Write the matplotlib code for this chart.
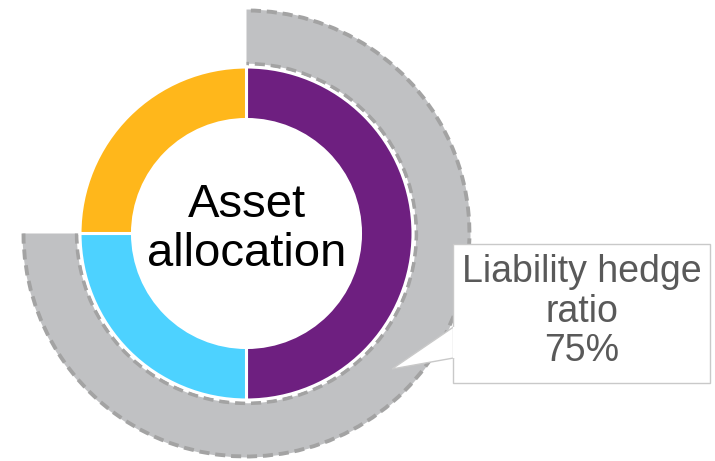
import numpy as np
import matplotlib
matplotlib.use('Agg')
import matplotlib.pyplot as plt
from matplotlib.patches import Arc, Rectangle, Polygon

# asset allocation (inner ring), clockwise from 12 o'clock
alloc_names = ['Matching assets', 'Growth assets', 'Other assets']
alloc_values = [50, 25, 25]
alloc_colours = ['#6e1f80', '#4dd2ff', '#ffb71b']

# liability hedge ratio (outer ring)
hedge_ratio = 75
hedge_label = 'Liability hedge\nratio\n{}%'.format(hedge_ratio)
centre_label = 'Asset\nallocation'

W, H = 715, 461
fig = plt.figure(figsize=(W / 100, H / 100), dpi=100)
ax = fig.add_axes([0, 0, 1, 1])

cx, cy = 246.5, H - 233.5
r_in, w_in = 166.5, 52.5
r_out, w_out = 224, 55.5
grey = '#c0c1c3'
dash_grey = '#a3a3a3'

# outer ring: hedge ratio drawn as a pie with an invisible remainder
ax.pie([hedge_ratio, 100 - hedge_ratio], colors=[grey, 'none'], startangle=90,
       counterclock=False, radius=r_out, center=(cx, cy),
       wedgeprops=dict(width=w_out, linewidth=0, zorder=1))

theta1 = 90 - 360 * hedge_ratio / 100
ax.add_patch(Arc((cx, cy), 2 * (r_out - w_out), 2 * (r_out - w_out), theta1=theta1, theta2=90,
                 color='white', linewidth=1.8, zorder=2))
for rr in [r_out - 1, r_out - w_out + 1.2]:
    ax.add_patch(Arc((cx, cy), 2 * rr, 2 * rr, theta1=theta1, theta2=90, color=dash_grey,
                     linewidth=2.8, linestyle=(0, (2.6, 1.5)), capstyle='butt', zorder=2))

# inner ring: asset allocation
ax.pie(alloc_values, colors=alloc_colours, startangle=90, counterclock=False,
       radius=r_in, center=(cx, cy),
       wedgeprops=dict(width=w_in, edgecolor='white', linewidth=2.2, zorder=3))

ax.text(cx, cy + 4, centre_label, ha='center', va='center', fontsize=34,
        family='Liberation Sans', color='black', linespacing=1.15, zorder=5)

# callout box
bx0, bx1, by0, by1 = 453, 710, H - 383, H - 244
ax.add_patch(Rectangle((bx0, by0), bx1 - bx0, by1 - by0, facecolor='white',
                       edgecolor='#c9c9c9', linewidth=1.0, zorder=6))
ax.add_patch(Polygon([(bx0 + 0.5, H - 327), (392, H - 369), (bx0 + 0.5, H - 358)], closed=True,
                     facecolor='white', edgecolor='#c9c9c9', linewidth=1.0, zorder=6))
ax.plot([bx0 + 0.5, bx0 + 0.5], [H - 357, H - 328], color='white', linewidth=1.6, zorder=7)
ax.text((bx0 + bx1) / 2, (by0 + by1) / 2 + 2, hedge_label, ha='center', va='center',
        fontsize=27, family='Liberation Sans', color='#595959', linespacing=1.12, zorder=8)

ax.set_xlim(0, W)
ax.set_ylim(0, H)
ax.set_aspect('auto')
ax.axis('off')

fig.savefig('out.png', dpi=100)
